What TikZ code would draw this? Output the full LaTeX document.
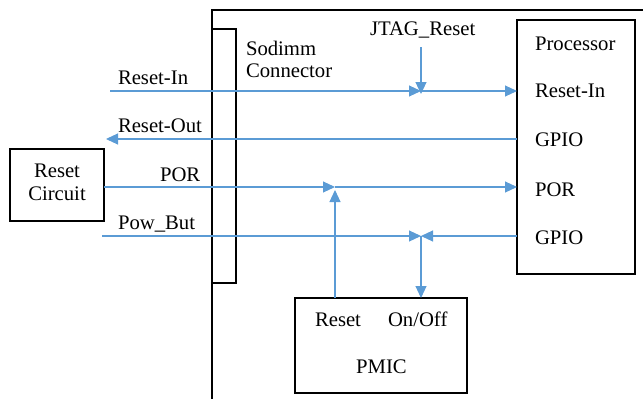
\documentclass[tikz,border=0pt]{standalone}
\usepackage{fontspec}
\setmainfont{Liberation Serif}
\usetikzlibrary{arrows.meta}
\definecolor{wireblue}{RGB}{91,155,213}
\tikzset{
  box/.style={draw=black, line width=2pt, inner sep=0pt, outer sep=0pt},
  wire/.style={draw=wireblue, line width=1.1pt},
  arr/.style={wire, -{Triangle[length=12pt,width=11pt]}},
  lbl/.style={inner sep=0pt, outer sep=0pt, anchor=base west, font=\fontsize{20.7}{24}\selectfont},
  clbl/.style={lbl, anchor=base}
}
\begin{document}
\begin{tikzpicture}[x=1pt,y=-1pt]
\useasboundingbox (0,0) rectangle (643,399);
% board outline
\coordinate (bl) at (212,399);
\coordinate (tl) at (212,10);
\coordinate (tr) at (643,10);
\draw[black, line width=2pt] (bl) -- (tl) -- (tr);
% boxes
\node[box, minimum width=24pt, minimum height=254pt] (conn) at (224,156) {};
\node[box, minimum width=94pt, minimum height=72pt] (rc) at (57,185) {};
\node[box, minimum width=118pt, minimum height=254pt] (proc) at (576,147) {};
\node[box, minimum width=172pt, minimum height=95pt] (pmic) at (381,345.5) {};
% texts
\node[lbl] (tSod) at (246,55) {Sodimm};
\node[lbl] (tCon) at (246,77.7) {Connector};
\node[lbl] (tJtag) at (370,35) {JTAG\_Reset};
\node[lbl] (tProc) at (535,50) {Processor};
\node[lbl] (tPRI) at (535,97) {Reset-In};
\node[lbl] (tPG1) at (535,146.7) {GPIO};
\node[lbl] (tPPOR) at (535,196.7) {POR};
\node[lbl] (tPG2) at (535,244) {GPIO};
\node[lbl] (tRI) at (118,84) {Reset-In};
\node[lbl] (tRO) at (118,132.7) {Reset-Out};
\node[lbl] (tPOR) at (160,181.7) {POR};
\node[lbl] (tPB) at (118,229) {Pow\_But};
\node[clbl] (tRC1) at (57,177.7) {Reset};
\node[clbl] (tRC2) at (57,200.7) {Circuit};
\node[lbl] (tMR) at (315,326.7) {Reset};
\node[lbl] (tMO) at (388,326.7) {On/Off};
\node[clbl] (tPM) at (381.5,373.3) {PMIC};
% coordinates
\coordinate (riS) at (110,91);
\coordinate (J1) at (421,91);
\coordinate (jtS) at (421,47);
\coordinate (roE) at (106,139);
\coordinate (J2) at (335,187);
\coordinate (pbS) at (102,236);
\coordinate (J3) at (421,236);
% wires
\draw[arr] (riS) -- (J1);
\draw[arr] (J1) -- (J1 -| proc.west);
\draw[arr] (jtS) -- ([yshift=-3pt]J1);
\draw[arr] (roE -| proc.west) -- (roE);
\draw[arr] (rc.east |- J2) -- (J2);
\draw[arr] (J2) -- (J2 -| proc.west);
\draw[arr] (J2 |- pmic.north) -- ([yshift=-3pt]J2);
\draw[arr] (pbS) -- (J3);
\draw[arr] (J3 -| proc.west) -- (J3);
\draw[arr] (J3) -- (J3 |- pmic.north);
\end{tikzpicture}
\end{document}
